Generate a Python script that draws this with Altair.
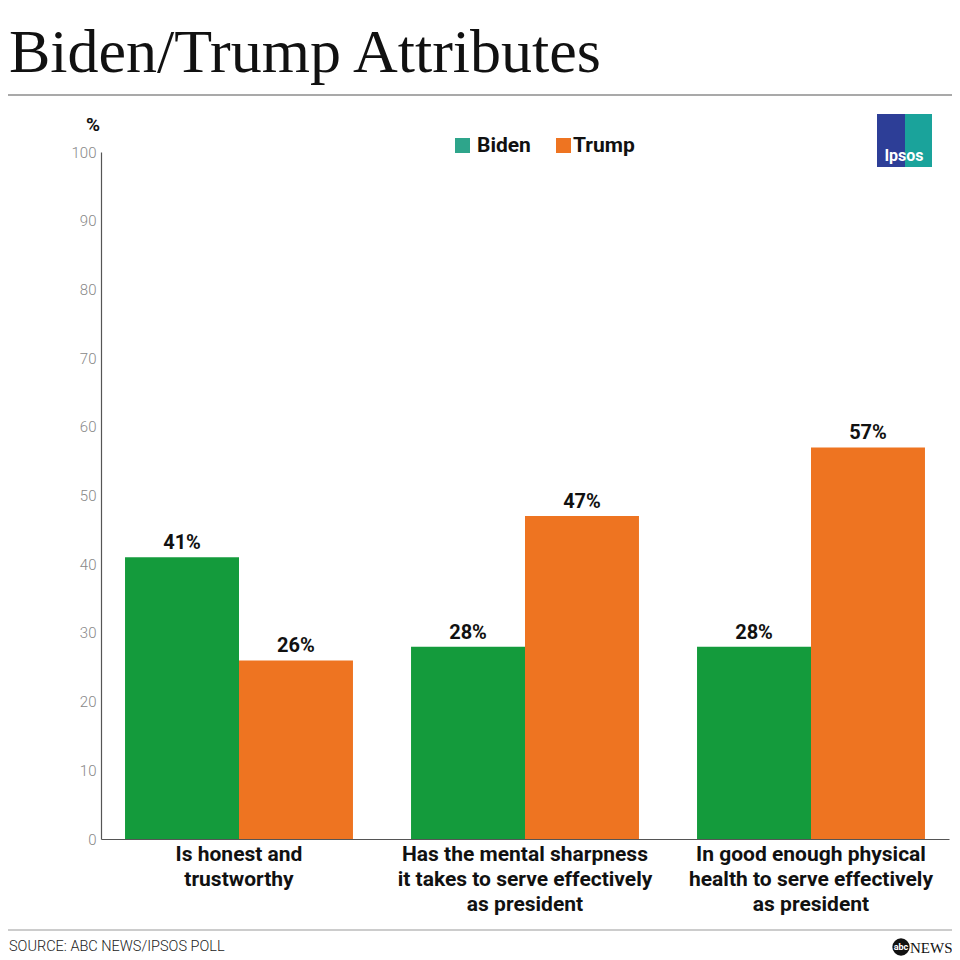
import altair as alt
import pandas as pd

categories = ["Is honest and\ntrustworthy",
              "Has the mental sharpness\nit takes to serve effectively\nas president",
              "In good enough physical\nhealth to serve effectively\nas president"]
series = ["Biden", "Trump"]
biden = [41, 28, 28]
trump = [26, 47, 57]

rows = []
for c, b, t in zip(categories, biden, trump):
    rows.append({"cat": c, "who": "Biden", "v": b, "lbl": f"{b}%"})
    rows.append({"cat": c, "who": "Trump", "v": t, "lbl": f"{t}%"})
df = pd.DataFrame(rows)
cat_df = pd.DataFrame({"cat": categories})

W, H = 848, 687
GREEN, ORANGE = "#149b3c", "#ee7421"

xscale = alt.Scale(domain=categories, paddingInner=0.203, paddingOuter=0.084)
x = alt.X("cat:N", scale=xscale, sort=categories,
          axis=alt.Axis(labels=False, ticks=False, title=None, domainColor="#555", domainWidth=1.2))
y = alt.Y("v:Q", scale=alt.Scale(domain=[0, 100], nice=False),
          axis=alt.Axis(values=list(range(0, 101, 10)), grid=False, ticks=False, title=None,
                        labelColor="#888", labelFont="Roboto", labelFontSize=15,
                        labelFontWeight=300, labelPadding=5, domainColor="#555", domainWidth=1.2))

bars = alt.Chart(df).mark_bar().encode(
    x=x, y=y,
    xOffset=alt.XOffset("who:N", sort=series, scale=alt.Scale(paddingInner=0, paddingOuter=0)),
    color=alt.Color("who:N", scale=alt.Scale(domain=series, range=[GREEN, ORANGE]), legend=None),
)
vals = alt.Chart(df).mark_text(font="Roboto", fontWeight="bold", fontSize=20, baseline="bottom", dy=-4,
                               color="#111").encode(
    x=x, y=y, xOffset=alt.XOffset("who:N", sort=series), text="lbl:N")

catlbl = alt.Chart(cat_df).mark_text(font="Roboto", fontWeight="bold", fontSize=21, baseline="middle",
                                     lineBreak="\n", lineHeight=25, color="#111", align="center").encode(
    x=alt.X("cat:N", scale=xscale, sort=categories), y=alt.value(H + 16), text="cat:N")

def txt(s, xv, yv, **kw):
    return alt.Chart(pd.DataFrame({"t": [s]})).mark_text(**kw).encode(
        x=alt.value(xv), y=alt.value(yv), text="t:N")

def rule(x1, x2, yv, color="#666", w=1):
    return alt.Chart(pd.DataFrame({"a": [0]})).mark_rule(color=color, strokeWidth=w).encode(
        x=alt.value(x1), x2=alt.value(x2), y=alt.value(yv))

def rect(x1, x2, y1, y2, color):
    return alt.Chart(pd.DataFrame({"a": [0]})).mark_rect(color=color).encode(
        x=alt.value(x1), x2=alt.value(x2), y=alt.value(y1), y2=alt.value(y2))

title = txt("Biden/Trump Attributes", -92, -80, font="Liberation Serif", fontSize=62,
            align="left", baseline="alphabetic", color="#111")
top_rule = rule(-93, 851, -57, "#555", 1.2)
pct = txt("%", -8, -27, font="Roboto", fontWeight="bold", fontSize=19, align="center",
          baseline="middle", color="#111")

leg = [
    rect(354, 369, -14, 1, "#2ea58b"),
    txt("Biden", 376, -6, font="Roboto", fontWeight="bold", fontSize=21, align="left",
        baseline="middle", color="#111"),
    rect(455, 470, -14, 1, ORANGE),
    txt("Trump", 472, -6, font="Roboto", fontWeight="bold", fontSize=21, align="left",
        baseline="middle", color="#111"),
]

logo = [
    rect(776, 804, -38, 15, "#2d3e97"),
    rect(804, 831, -38, 15, "#1aa39b"),
    txt("Ipsos", 803, 4, font="Roboto", fontWeight="bold", fontSize=16, align="center",
        baseline="middle", color="white"),
]

bottom_rule = rule(-93, 851, 778, "#999", 1)
source = txt("SOURCE: ABC NEWS/IPSOS POLL", -92, 795, font="Roboto", fontSize=14.5, fontWeight=300,
             align="left", baseline="middle", color="#222")
abc_circle = alt.Chart(pd.DataFrame({"a": [0]})).mark_point(filled=True, color="#111", size=300,
                                                            shape="circle", opacity=1).encode(
    x=alt.value(800), y=alt.value(795))
abc_txt = txt("abc", 800, 795, font="Roboto", fontWeight="bold", fontSize=9, align="center",
              baseline="middle", color="white")
news = txt("NEWS", 809, 796, font="Liberation Serif", fontSize=15, align="left",
           baseline="middle", color="#111")

chart = alt.layer(bars, vals, catlbl, title, top_rule, pct, *leg, *logo, bottom_rule, source,
                  abc_circle, abc_txt, news).properties(
    width=W, height=H,
    autosize=alt.AutoSizeParams(type="none"),
    padding={"left": 93, "top": 144, "right": 3, "bottom": 118},
    background="white",
).configure_view(strokeWidth=0)

chart.save("out.html", embed_options={"renderer": "svg", "actions": False})
